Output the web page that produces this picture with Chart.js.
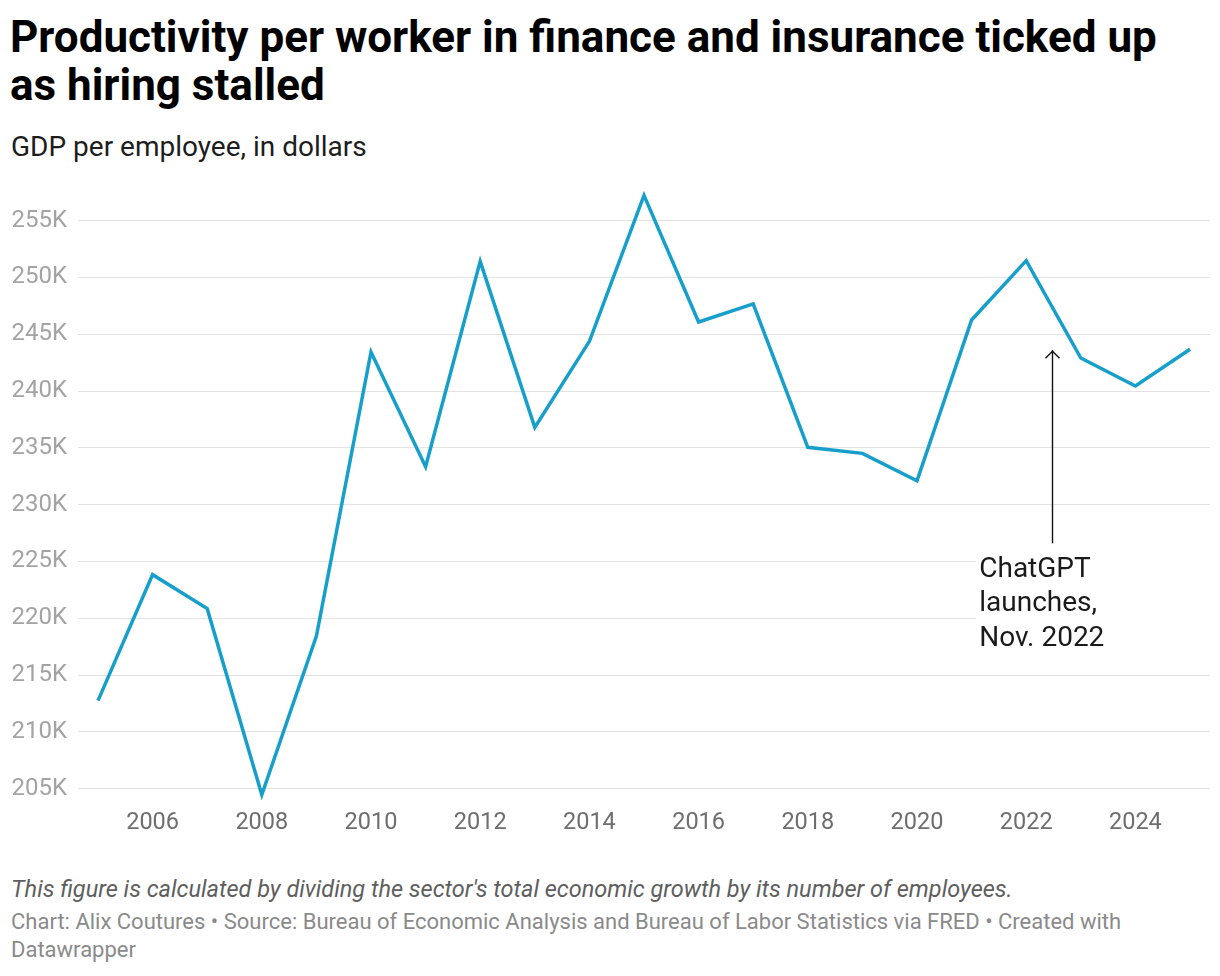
<!DOCTYPE html>
<html>
<head>
<meta charset="utf-8">
<script src="https://cdn.jsdelivr.net/npm/chart.js@4"></script>
<style>
  html, body { margin: 0; padding: 0; background: #fff; }
  body { width: 1220px; height: 976px; position: relative; overflow: hidden; font-family: Roboto, "Noto Sans", sans-serif; }
  #title { position: absolute; left: 10px; top: 12.5px; width: 1210px; font-size: 44px; font-weight: 700; line-height: 48px; color: #000; white-space: nowrap; }
  #subtitle { position: absolute; left: 11px; top: 130px; font-size: 28px; line-height: 34px; color: #1d1d1d; }
  #chartWrap { position: absolute; left: 0; top: 160px; width: 1220px; height: 700px; }
  #note { position: absolute; left: 11px; top: 873.7px; font-size: 23.5px; line-height: 30px; font-style: italic; color: #5e5e5e; white-space: nowrap; }
  #footer { position: absolute; left: 11px; top: 908.1px; font-size: 22px; line-height: 27.4px; color: #8a8a8a; white-space: nowrap; }
</style>
</head>
<body>
<div id="title">Productivity per worker in finance and insurance ticked up<br>as hiring stalled</div>
<div id="subtitle">GDP per employee, in dollars</div>
<div id="chartWrap"><canvas id="c" width="1220" height="700"></canvas></div>
<div id="note">This figure is calculated by dividing the sector's total economic growth by its number of employees.</div>
<div id="footer">Chart: Alix Coutures • Source: Bureau of Economic Analysis and Bureau of Labor Statistics via FRED • Created with<br>Datawrapper</div>
<script>
const years = [2005, 2006, 2007, 2008, 2009, 2010, 2011, 2012, 2013, 2014, 2015, 2016, 2017, 2018, 2019, 2020, 2021, 2022, 2023, 2024, 2025];
const gdpPerEmployee = [212750, 223840, 220850, 204470, 218440, 243440, 233350, 251420, 236810, 244380, 257230, 246080, 247670, 235050, 234520, 232110, 246260, 251480, 242910, 240450, 243680];
const xTickYears = [2006, 2008, 2010, 2012, 2014, 2016, 2018, 2020, 2022, 2024];
const yTickValues = [205000, 210000, 215000, 220000, 225000, 230000, 235000, 240000, 245000, 250000, 255000];
const annotationLines = ["ChatGPT", "launches,", "Nov. 2022"];
const annotationYear = 2022.47;
const annotationTextYear = 2021.14;
const annotationArrowFrom = 226600;
const annotationArrowTo = 243600;

const annotationPlugin = {
  id: 'chatgptNote',
  afterDatasetsDraw(chart) {
    const ctx = chart.ctx;
    const xs = chart.scales.x, ys = chart.scales.y;
    const ax = Math.round(xs.getPixelForValue(annotationYear)) + 0.5;
    const yBottom = ys.getPixelForValue(annotationArrowFrom);
    const yTop = ys.getPixelForValue(annotationArrowTo);
    const tx = xs.getPixelForValue(annotationTextYear);
    ctx.save();
    ctx.fillStyle = '#ffffff';
    ctx.fillRect(tx - 3, yBottom + 9, chart.chartArea.right - tx + 4, 106);
    ctx.strokeStyle = '#111';
    ctx.lineWidth = 1.4;
    ctx.beginPath();
    ctx.moveTo(ax, yBottom);
    ctx.lineTo(ax, yTop);
    ctx.stroke();
    ctx.beginPath();
    ctx.moveTo(ax - 7, yTop + 8);
    ctx.lineTo(ax, yTop + 1);
    ctx.lineTo(ax + 7, yTop + 8);
    ctx.stroke();
    ctx.fillStyle = '#1a1a1a';
    ctx.font = '28px Roboto';
    ctx.textBaseline = 'alphabetic';
    ctx.textAlign = 'left';
    annotationLines.forEach((t, i) => {
      ctx.fillText(t, tx, yBottom + 33.6 + i * 34.3);
    });
    ctx.restore();
  }
};

new Chart(document.getElementById('c'), {
  type: 'line',
  data: {
    datasets: [{
      data: years.map((y, i) => ({ x: y, y: gdpPerEmployee[i] })),
      borderColor: '#179fcc',
      borderWidth: 3.5,
      pointRadius: 0,
      pointHoverRadius: 0,
      tension: 0,
      fill: false
    }]
  },
  options: {
    responsive: false,
    animation: false,
    devicePixelRatio: 1,
    layout: { padding: { top: 26.6, right: 10, left: 0, bottom: 0 } },
    plugins: { legend: { display: false }, tooltip: { enabled: false } },
    scales: {
      x: {
        type: 'linear',
        min: 2005 - 0.3664,
        max: 2025 + 0.3664,
        grid: { display: false, drawTicks: false },
        border: { display: false },
        afterBuildTicks: (s) => { s.ticks = xTickYears.map(v => ({ value: v })); },
        afterFit: (s) => { s.height = 59.94; },
        ticks: {
          autoSkip: false,
          maxRotation: 0,
          padding: 9,
          color: '#6e6e6e',
          font: { family: 'Roboto', size: 23.5 },
          callback: (v) => String(v)
        }
      },
      y: {
        type: 'linear',
        min: 204000,
        max: 258000,
        grid: { color: '#e3e3e3', lineWidth: 1, drawTicks: false },
        border: { display: false },
        afterBuildTicks: (s) => { s.ticks = yTickValues.map(v => ({ value: v })); },
        afterFit: (s) => { s.width = 78; },
        ticks: {
          padding: 11,
          color: '#a3a3a3',
          font: { family: 'Roboto', size: 24 },
          callback: (v) => (v / 1000) + 'K'
        }
      }
    }
  },
  plugins: [annotationPlugin]
});
</script>
</body>
</html>
